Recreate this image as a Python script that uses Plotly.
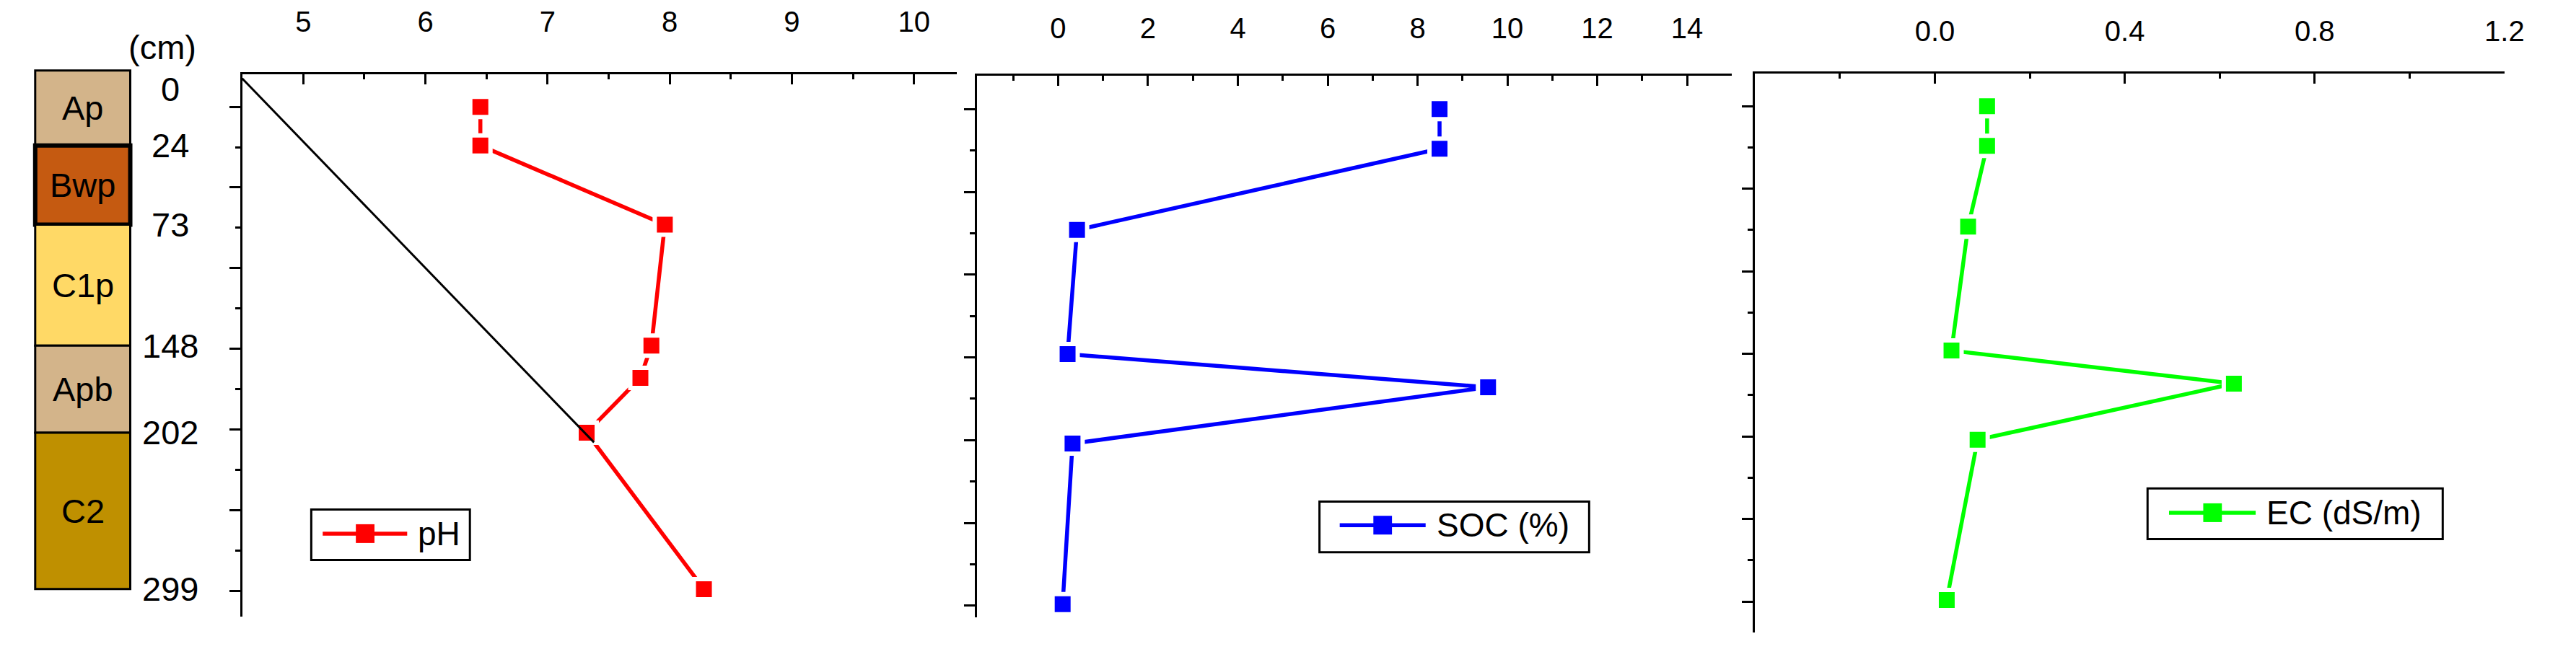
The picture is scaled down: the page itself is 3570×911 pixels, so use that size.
import plotly.graph_objects as go

W, H = 3570, 911
FONT = "Liberation Sans, Arial, sans-serif"

# depth of each sample (cm) and the measured soil properties
depth_cm = [0, 24, 73, 148, 168, 202, 299]
ph = [6.45, 6.45, 7.96, 7.85, 7.76, 7.32, 8.28]
soc_pct = [8.49, 8.49, 0.42, 0.21, 9.57, 0.32, 0.10]
ec_dsm = [0.11, 0.11, 0.07, 0.035, 0.63, 0.09, 0.025]

# soil profile horizons
horizons = ["Ap", "Bwp", "C1p", "Apb", "C2"]
horizon_top = [0, 24, 73, 148, 202]
horizon_bottom = [24, 73, 148, 202, 299]
horizon_colors = ["#D3B48A", "#C55A11", "#FFD966", "#D3B48A", "#BF9000"]

# black line drawn across the pH panel
line_ph = [4.5, 7.38]
line_depth = [-17.6, 208]


def px(x):
    return x / W


def py(y):
    return 1 - y / H


fig = go.Figure()

panels = [
    # name, values, colour, x domain px, y domain px, x range, y range, dtick, minor, fmt, standoff
    ("pH", ph, "#FF0000", (330.2, 1328.4), (94.3, 847.3), [4.5, 10.35], [316.2, -20.1], 1, 0.5, None, 40),
    ("SOC (%)", soc_pct, "#0000FF", (1357.05, 2411.25), (95.7, 848), [-1.8, 15], [307.0, -20.3], 2, 1, None, 33),
    ("EC (dS/m)", ec_dsm, "#00FF00", (2442.7, 3490.2), (92.7, 869), [-0.38, 1.2], [318.7, -19.9], 0.4, 0.2, ".1f", 26),
]

layout = dict(
    width=W,
    height=H,
    margin=dict(l=0, r=0, t=0, b=0),
    paper_bgcolor="white",
    plot_bgcolor="white",
    showlegend=False,
    font=dict(family=FONT, color="black"),
)

for i, (name, vals, color, xd, yd, xr, yr, dt, mdt, fmt, so) in enumerate(panels):
    n = "" if i == 0 else str(i + 1)
    fig.add_trace(go.Scatter(
        x=vals, y=depth_cm, name=name, mode="lines+markers",
        line=dict(color=color, width=5.5),
        marker=dict(symbol="square", size=28, color=color, line=dict(color="white", width=6)),
        xaxis="x" + n, yaxis="y" + n,
    ))
    if i == 0:
        fig.add_trace(go.Scatter(
            x=line_ph, y=line_depth, mode="lines",
            line=dict(color="black", width=3), xaxis="x", yaxis="y",
        ))
    layout["xaxis" + n] = dict(
        domain=[px(xd[0]), px(xd[1])], range=xr, side="top", anchor="y" + n,
        showline=True, linecolor="black", linewidth=3, showgrid=False, zeroline=False,
        ticks="inside", ticklen=14, tickwidth=3, tickcolor="black",
        tick0=0 if i else 5, dtick=dt, tickformat=fmt,
        minor=dict(ticks="inside", ticklen=7, tickwidth=3, tickcolor="black", dtick=mdt, showgrid=False),
        tickfont=dict(size=40, family=FONT, color="black"), ticklabelstandoff=so,
    )
    layout["yaxis" + n] = dict(
        domain=[py(yd[1]), py(yd[0])], range=yr, anchor="x" + n,
        showline=True, linecolor="black", linewidth=3, showgrid=False, zeroline=False,
        ticks="outside", ticklen=15, tickwidth=3, tickcolor="black",
        tick0=0, dtick=50, showticklabels=False,
        minor=dict(ticks="outside", ticklen=7, tickwidth=3, tickcolor="black", dtick=25, showgrid=False),
    )

# soil column, on its own depth axis with the same scale as the pH panel
col_top = -22.55
bases = [col_top] + horizon_top[1:]
fig.add_trace(go.Bar(
    x=[0] * len(horizons), y=[b - t for t, b in zip(bases, horizon_bottom)], base=bases,
    width=1, marker=dict(color=horizon_colors, line=dict(color="black", width=[3, 6, 3, 3, 3])),
    xaxis="x4", yaxis="y4",
))
layout["xaxis4"] = dict(domain=[px(35), px(180)], range=[-0.546, 0.546], visible=False, anchor="y4")
layout["yaxis4"] = dict(domain=[py(830), py(80)], range=[308.5, -26.5], visible=False, anchor="x4")
layout["barmode"] = "overlay"

label_font = dict(size=47, family=FONT, color="black")
annotations = []
for name, t, b in zip(horizons, bases, horizon_bottom):
    annotations.append(dict(
        x=0, y=(t + b) / 2, xref="x4", yref="y4", text=name, showarrow=False,
        xanchor="center", yanchor="middle", font=label_font,
    ))
for k, d in enumerate(horizon_top + horizon_bottom[-1:]):
    annotations.append(dict(
        x=px(230), y=d, xref="paper", yref="y4", text=str(d), showarrow=False,
        xanchor="center", yanchor="middle", yshift=25 if k == 0 else 0, font=label_font,
    ))
annotations.append(dict(
    x=px(219), y=py(57), xref="paper", yref="paper", text="(cm)", showarrow=False,
    xanchor="center", yanchor="middle", font=label_font,
))

# legend boxes drawn by hand (long line sample like the original)
shapes = []
legends = [
    # box x0, x1, y0, y1, line x0, x1, line y, marker x, text x
    ((426.7, 648.3, 698.3, 768.3), (442.7, 560.7, 731.7), 502, 573),
    ((1835, 2211.7, 687.3, 757.7), (1863.3, 1983.3, 720), 1923.3, 1997),
    ((2991.7, 3404, 669, 739.3), (3021.7, 3142.7, 702.7), 3082.5, 3156),
]
for (name, vals, color, *_), (box, ln, mx, tx) in zip(panels, legends):
    shapes.append(dict(type="rect", xref="paper", yref="paper",
                       x0=px(box[0]), x1=px(box[1]), y0=py(box[3]), y1=py(box[2]),
                       line=dict(color="black", width=3), fillcolor="white"))
    shapes.append(dict(type="line", xref="paper", yref="paper",
                       x0=px(ln[0]), x1=px(ln[1]), y0=py(ln[2]), y1=py(ln[2]),
                       line=dict(color=color, width=5.5)))
    shapes.append(dict(type="rect", xref="paper", yref="paper",
                       x0=px(mx - 13), x1=px(mx + 13), y0=py(ln[2] + 13), y1=py(ln[2] - 13),
                       line=dict(width=0), fillcolor=color))
    annotations.append(dict(
        x=px(tx), y=py(ln[2]), xref="paper", yref="paper", xanchor="left", yanchor="middle",
        text=name, showarrow=False, font=dict(size=46, family=FONT, color="black"),
    ))

layout["annotations"] = annotations
layout["shapes"] = shapes
fig.update_layout(**layout)

fig.write_html("out.html")
